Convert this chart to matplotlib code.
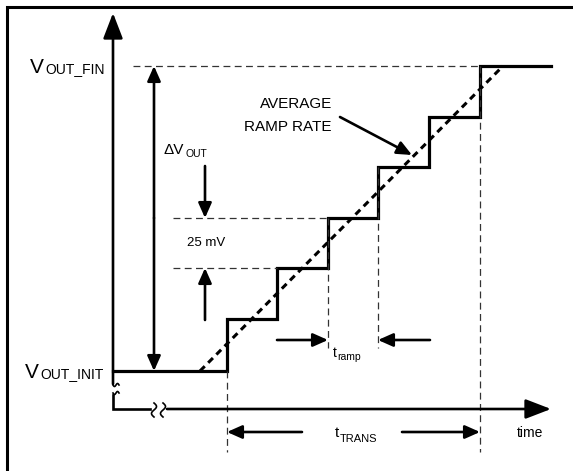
import numpy as np
import matplotlib.pyplot as plt

# diagram coordinates are in pixels (y grows downward)
step_times = [227, 277, 328, 378, 429, 480]
step_levels = [371, 319, 268, 218, 167, 117, 66]
t_start, t_end = 113, 551
ramp_start = (200, 371)
ramp_end = (503, 66)

plt.rcParams["font.family"] = ["Liberation Sans", "DejaVu Sans"]

fig = plt.figure(figsize=(5.73, 4.71), dpi=100)
ax = fig.add_axes([0, 0, 1, 1])
ax.set_xlim(0, 573)
ax.set_ylim(471, 0)
ax.axis("off")

K = "black"
thin = dict(color="#333333", lw=0.9, linestyle=(0, (5.5, 3.5)))


def arrow(x0, y0, x1, y1, lw=1.9, scale=10, hl=0.9, hw=0.4):
    ax.annotate("", xy=(x1, y1), xytext=(x0, y0),
                arrowprops=dict(arrowstyle=f"-|>,head_length={hl},head_width={hw}",
                                lw=lw, color=K, shrinkA=0, shrinkB=0,
                                mutation_scale=scale))


# outer frame (only left/top visible)
ax.plot([7, 7, 573], [471, 7, 7], color=K, lw=2.2, solid_capstyle="butt",
        solid_joinstyle="miter")

# stepped output
xs = [t_start, step_times[0]]
ys = [step_levels[0], step_levels[0]]
for i, t in enumerate(step_times):
    xs += [t, t]
    ys += [step_levels[i], step_levels[i + 1]]
    nxt = step_times[i + 1] if i + 1 < len(step_times) else t_end
    xs.append(nxt)
    ys.append(step_levels[i + 1])
ax.plot(xs, ys, color=K, lw=2.3, solid_joinstyle="miter")

# average ramp
ax.plot([ramp_start[0], ramp_end[0]], [ramp_start[1], ramp_end[1]], color=K,
        lw=2.2, linestyle=(0, (2.2, 1.6)))

# axes
arrow(113, 384, 113, 13, lw=1.9, scale=12, hl=1.3, hw=0.5)
ax.plot([113, 113, 150], [395, 409, 409], color=K, lw=1.9, solid_joinstyle="miter")
arrow(167, 409, 551, 409, lw=1.9, scale=12, hl=1.3, hw=0.5)
s = np.linspace(0, 1, 30)
for y0 in (385, 393):
    ax.plot(113 + 6 * s, y0 + 1.5 * np.sin(2 * np.pi * s), color=K, lw=1.2)
for x0 in (154, 163):
    ax.plot(x0 + 2.5 * np.sin(2 * np.pi * s), 403 + 14 * s, color=K, lw=1.2)

# guide lines
ax.plot([133, step_times[-1]], [step_levels[-1]] * 2, **thin)
ax.plot([173, step_times[2]], [step_levels[3]] * 2, **thin)
ax.plot([173, step_times[1]], [step_levels[2]] * 2, **thin)
ax.plot([step_times[0]] * 2, [step_levels[0], 452], **thin)
ax.plot([step_times[-1]] * 2, [step_levels[-1], 452], **thin)
ax.plot([step_times[2]] * 2, [step_levels[3], 348], **thin)
ax.plot([step_times[3]] * 2, [step_levels[4], 348], **thin)

# delta V arrow
arrow(154, 218, 154, 66)
arrow(154, 218, 154, 371)

# 25 mV arrows
arrow(205, 166, 205, 218)
arrow(205, 320, 205, 268)

# t_ramp arrows
arrow(277, 340, 328, 340)
arrow(430, 340, 378, 340)

# t_TRANS arrows
arrow(302, 432, 227, 432)
arrow(402, 432, 480, 432)

# average ramp rate pointer
arrow(340, 117, 412, 155)

# labels
ax.text(30, 73, "V", fontsize=15, va="baseline")
ax.text(45, 73, "OUT_FIN", fontsize=10, va="baseline")
ax.text(25, 378, "V", fontsize=15, va="baseline")
ax.text(40, 378, "OUT_INIT", fontsize=10, va="baseline")
ax.text(163, 154, "ΔV", fontsize=11, va="baseline")
ax.text(186, 157, "OUT", fontsize=7.5, va="baseline")
ax.text(187, 243, "25 mV", fontsize=9.5, va="center")
ax.text(332, 104, "AVERAGE", fontsize=11, va="center", ha="right")
ax.text(332, 127, "RAMP RATE", fontsize=11, va="center", ha="right")
ax.text(333, 357, "t", fontsize=10, va="baseline")
ax.text(337, 360, "ramp", fontsize=7.5, va="baseline")
ax.text(335, 437, "t", fontsize=11, va="baseline")
ax.text(340, 442, "TRANS", fontsize=8, va="baseline")
ax.text(517, 437, "time", fontsize=10, va="baseline")

fig.savefig("out.png", dpi=100)
